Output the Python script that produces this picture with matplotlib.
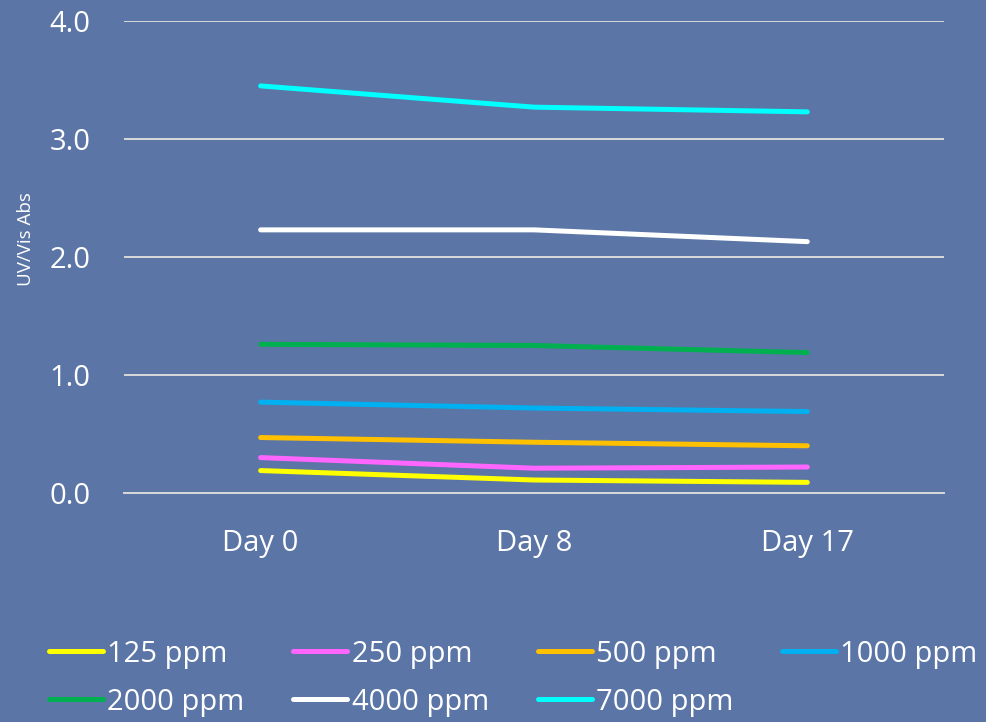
import matplotlib
matplotlib.use('Agg')
import matplotlib.pyplot as plt

plt.rcParams['font.family'] = ['Open Sans', 'DejaVu Sans']

BG_COLOR = '#5b76a6'
GRID_COLOR = '#d9d9d9'

days = ['Day 0', 'Day 8', 'Day 17']
labels = ['125 ppm', '250 ppm', '500 ppm', '1000 ppm', '2000 ppm', '4000 ppm', '7000 ppm']
colors = ['#ffff00', '#ff66ff', '#ffc000', '#00b0f0', '#00b050', '#ffffff', '#00ffff']

abs_125 = [0.19, 0.11, 0.09]
abs_250 = [0.30, 0.21, 0.22]
abs_500 = [0.47, 0.43, 0.40]
abs_1000 = [0.77, 0.72, 0.69]
abs_2000 = [1.26, 1.25, 1.19]
abs_4000 = [2.23, 2.23, 2.13]
abs_7000 = [3.45, 3.27, 3.23]
series = [abs_125, abs_250, abs_500, abs_1000, abs_2000, abs_4000, abs_7000]

fig = plt.figure(figsize=(9.87, 7.22), dpi=100)
fig.patch.set_facecolor(BG_COLOR)
ax = fig.add_axes([0.1256, 0.3172, 0.8308, 0.6537])
ax.set_facecolor('none')

x = range(len(days))
lines = []
for vals, lab, col in zip(series, labels, colors):
    ln, = ax.plot(x, vals, color=col, lw=3.6, solid_capstyle='round',
                  solid_joinstyle='round', label=lab, zorder=3)
    lines.append(ln)

ax.set_xlim(-0.5, 2.5)
ax.set_ylim(0, 4)
ax.set_yticks([0, 1, 2, 3, 4])
ax.set_yticklabels([f'{v:.1f}' for v in [0, 1, 2, 3, 4]])
ax.set_xticks(list(x))
ax.set_xticklabels(days)
ax.yaxis.grid(True, color=GRID_COLOR, lw=1.4, zorder=1)
ax.set_axisbelow(True)
for s in ax.spines.values():
    s.set_visible(False)
ax.spines['bottom'].set_visible(True)
ax.spines['bottom'].set_color(GRID_COLOR)
ax.spines['bottom'].set_linewidth(1.4)
ax.tick_params(axis='both', length=0, colors='white', labelsize=21)
ax.tick_params(axis='y', pad=24)
ax.tick_params(axis='x', pad=26)
ax.set_ylabel('UV/Vis Abs', color='white', fontsize=13.5)
ax.yaxis.set_label_coords(-0.108, 0.538)

# legend fills column by column, so reorder to read row-wise
order = [0, 4, 1, 5, 2, 6, 3]
leg = fig.legend([lines[i] for i in order], [labels[i] for i in order],
                 loc='lower left', bbox_to_anchor=(0.035, -0.0126), ncol=4,
                 frameon=False, fontsize=21, handlelength=1.85, handletextpad=0.15,
                 columnspacing=1.67, labelspacing=0.65, borderpad=0,
                 labelcolor='white')
for h in leg.legend_handles:
    h.set_linewidth(3.6)

fig.savefig('out.png', dpi=100, facecolor=BG_COLOR)
